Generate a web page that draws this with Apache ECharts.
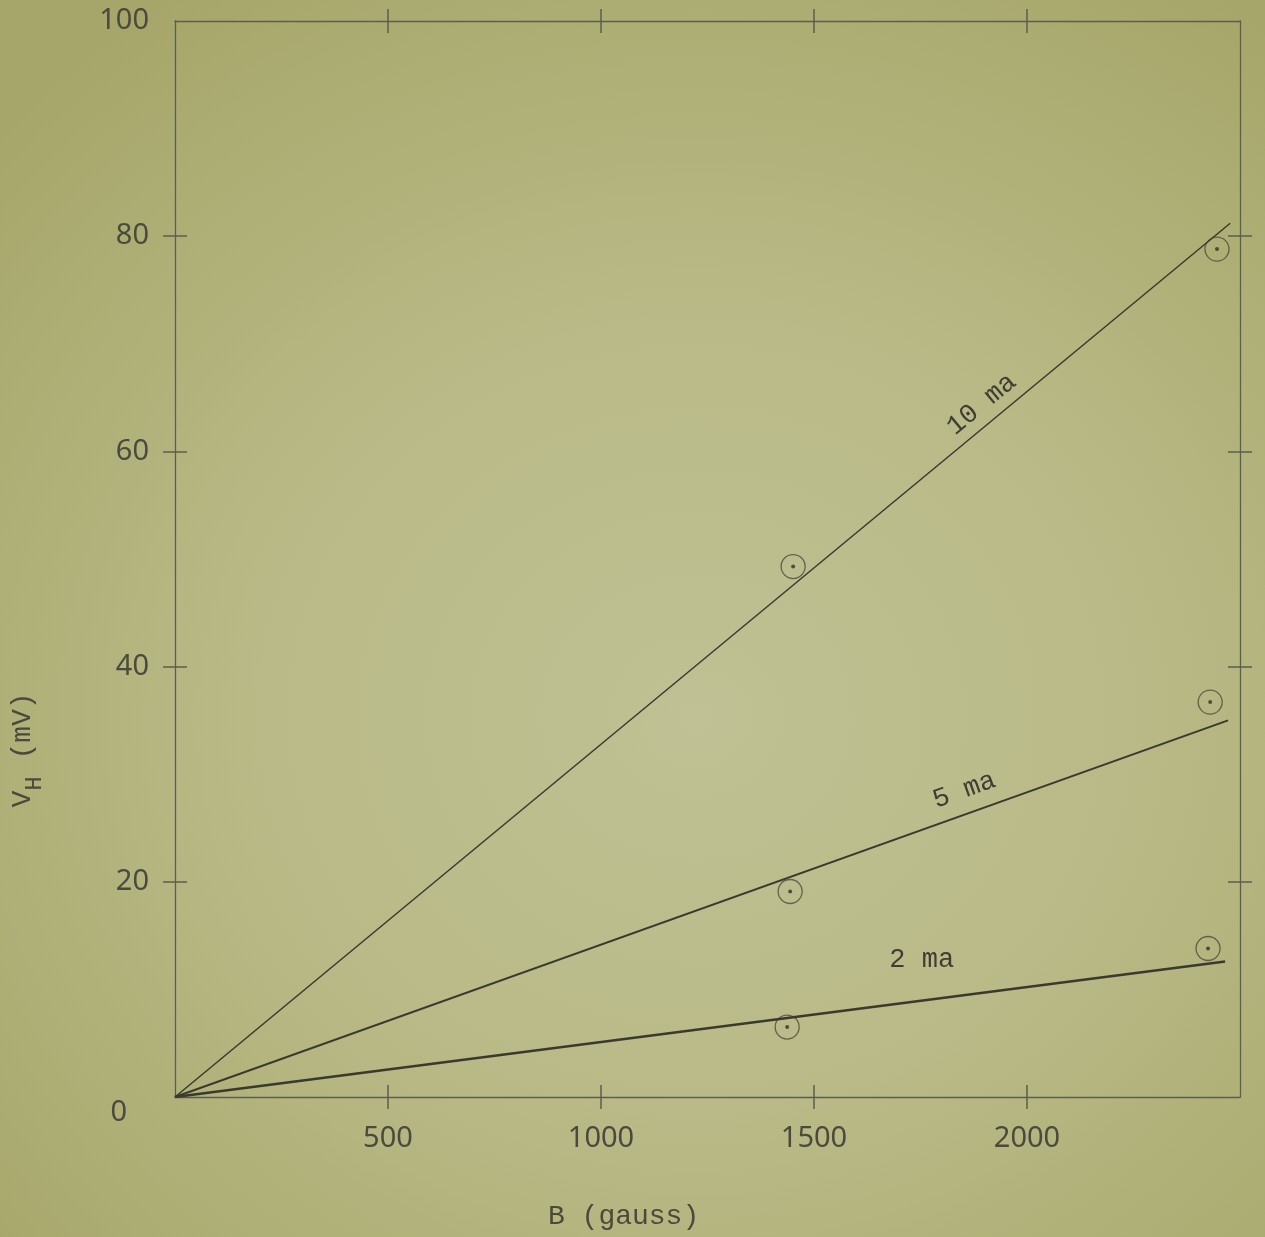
<!DOCTYPE html>
<html>
<head>
<meta charset="utf-8">
<script src="https://cdn.jsdelivr.net/npm/echarts@6/dist/echarts.min.js"></script>
<style>
  html, body { margin: 0; padding: 0; }
  body {
    width: 1265px; height: 1237px; overflow: hidden;
    background: radial-gradient(ellipse 75% 70% at 55% 58%, #c0c194 0%, #b9ba87 45%, #adae74 80%, #a6a66a 100%);
  }
  #chart { width: 1265px; height: 1237px; }
</style>
</head>
<body>
<div id="chart"></div>
<script>
// ---- data ----
const currents = ['10 ma', '5 ma', '2 ma'];
// fitted straight lines: from origin to end point
const fitEndB = [2477, 2472, 2465];
const fitEndV = [81.2, 35.0, 12.6];
// measured points (B in gauss, V_H in mV)
const b10 = [1451, 2446];
const v10 = [49.3, 78.8];
const b5 = [1444, 2430];
const v5 = [19.1, 36.7];
const b2 = [1437, 2425];
const v2 = [6.5, 13.8];
// tick values
const xTicks = [500, 1000, 1500, 2000];
const yTicks = [0, 20, 40, 60, 80, 100];
const yInnerTicks = [20, 40, 60, 80];

const ink = '#3a392e';
const frame = '#5e5e4e';
const labelColor = '#4a4a3e';

const chart = echarts.init(document.getElementById('chart'), null, { renderer: 'canvas' });

const pts = (bs, vs) => bs.map((b, i) => [b, vs[i]]);
const measured = [pts(b10, v10), pts(b5, v5), pts(b2, v2)];
const lineWidths = [1.5, 1.9, 2.6];

function xAx(pos, inside, main) {
  return {
    type: 'value', position: pos, min: 0, max: 2500, interval: 500,
    axisLine: { show: main, onZero: false, lineStyle: { color: frame, width: 1.3 } },
    axisTick: { show: true, inside: inside, length: 12, customValues: xTicks,
                lineStyle: { color: frame, width: 1.5 } },
    axisLabel: main && pos === 'bottom' ? {
      show: true, customValues: xTicks, margin: 27,
      fontFamily: 'Noto Sans', fontSize: 29, color: labelColor,
      formatter: v => String(v)
    } : { show: false },
    splitLine: { show: false }
  };
}
function yAx(pos, inside, main) {
  return {
    type: 'value', position: pos, min: 0, max: 100, interval: 20,
    axisLine: { show: main, onZero: false, lineStyle: { color: frame, width: 1.3 } },
    axisTick: { show: true, inside: inside, length: 12, customValues: yInnerTicks,
                lineStyle: { color: frame, width: 1.5 } },
    axisLabel: main && pos === 'left' ? {
      show: true, customValues: yTicks, margin: 26,
      fontFamily: 'Noto Sans', fontSize: 29, color: labelColor,
      formatter: v => v === 0 ? '{z|0}' : String(v),
      rich: { z: { fontFamily: 'Noto Sans', fontSize: 29, color: labelColor, padding: [32, 22, 0, 0] } }
    } : { show: false },
    splitLine: { show: false }
  };
}

const series = [];
currents.forEach((name, i) => {
  series.push({
    name: name, type: 'line', xAxisIndex: 0, yAxisIndex: 0,
    data: [[0, 0], [fitEndB[i], fitEndV[i]]],
    symbol: 'none', silent: true,
    lineStyle: { color: ink, width: lineWidths[i] }
  });
  series.push({
    name: name + ' ring', type: 'scatter', xAxisIndex: 0, yAxisIndex: 0,
    data: measured[i], symbol: 'circle', symbolSize: 24,
    itemStyle: { color: 'rgba(0,0,0,0)', borderColor: '#4c4b3e', borderWidth: 1.3 }
  });
  series.push({
    name: name + ' dot', type: 'scatter', xAxisIndex: 0, yAxisIndex: 0,
    data: measured[i], symbol: 'circle', symbolSize: 4,
    itemStyle: { color: '#33322a' }
  });
});

chart.setOption({
  backgroundColor: 'transparent',
  animation: false,
  grid: { left: 175, right: 25, top: 21, bottom: 140, containLabel: false },
  xAxis: [xAx('bottom', false, true), xAx('bottom', true, false), xAx('top', false, true), xAx('top', true, false)],
  yAxis: [yAx('left', false, true), yAx('left', true, false), yAx('right', false, true), yAx('right', true, false)],
  series: series
});

// annotations placed along each fitted line
const lineLabelPlacement = [
  { t: 0.776, d: 19, rotate: true },
  { t: 0.757, d: 23, rotate: true },
  { t: 0.716, d: 40, rotate: false }
];
const graphics = [];
currents.forEach((name, i) => {
  const p0 = chart.convertToPixel({ xAxisIndex: 0, yAxisIndex: 0 }, [0, 0]);
  const p1 = chart.convertToPixel({ xAxisIndex: 0, yAxisIndex: 0 }, [fitEndB[i], fitEndV[i]]);
  const dx = p1[0] - p0[0], dy = p1[1] - p0[1];
  const len = Math.sqrt(dx * dx + dy * dy);
  const ux = dx / len, uy = dy / len;
  const pl = lineLabelPlacement[i];
  const nx = uy, ny = -ux;
  const cx = p0[0] + ux * len * pl.t + nx * pl.d;
  const cy = p0[1] + uy * len * pl.t + ny * pl.d;
  graphics.push({
    type: 'text', x: cx, y: cy,
    rotation: pl.rotate ? Math.atan2(-dy, dx) : 0,
    style: {
      text: name, fill: '#3f3e33',
      font: '27px "Liberation Mono", "DejaVu Sans Mono", monospace',
      align: 'center', verticalAlign: 'middle'
    }
  });
});
graphics.push({
  type: 'text', x: 548, y: 1203,
  style: {
    text: 'B (gauss)', fill: '#4a4a3c',
    font: '28px "Liberation Mono", "DejaVu Sans Mono", monospace',
    align: 'left', verticalAlign: 'top'
  }
});
graphics.push({
  type: 'text', x: 24, y: 750, rotation: Math.PI / 2,
  style: {
    text: '{v|V}{h|H}{r| (mV)}', fill: '#4a4a3c',
    align: 'center', verticalAlign: 'middle',
    rich: {
      v: { font: '28px "Liberation Mono", monospace', fill: '#4a4a3c', verticalAlign: 'top', lineHeight: 30 },
      h: { font: '24px "Liberation Mono", monospace', fill: '#4a4a3c', verticalAlign: 'top', lineHeight: 30, padding: [14, 0, 0, 0] },
      r: { font: '28px "Liberation Mono", monospace', fill: '#4a4a3c', verticalAlign: 'top', lineHeight: 30 }
    }
  }
});
chart.setOption({ graphic: graphics });
</script>
</body>
</html>
